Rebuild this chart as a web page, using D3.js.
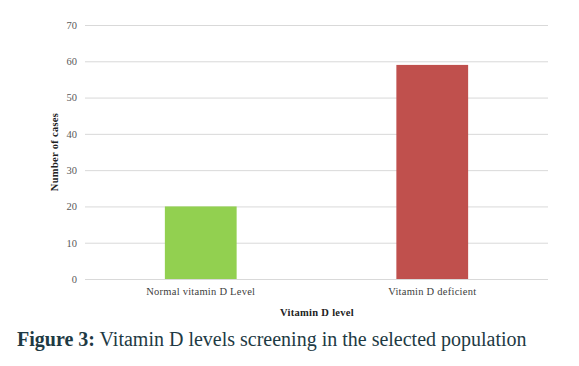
<!DOCTYPE html>
<html><head><meta charset="utf-8">
<script src="https://cdn.jsdelivr.net/npm/d3@7"></script>
<style>body{margin:0;background:#fff}svg{display:block}</style>
</head><body>
<svg id="c" width="579" height="366"></svg>
<script>
const categories = ["Normal vitamin D Level", "Vitamin D deficient"];
const values = [20, 59];
const colors = ["#92d050", "#c0504d"];
const yTicks = [0, 10, 20, 30, 40, 50, 60, 70];

const svg = d3.select("#c");
const m = {left: 85, right: 31, top: 25, bottom: 87};
const W = 579, H = 366;
const x = d3.scaleBand().domain(categories).range([m.left, W - m.right]).padding(0);
const y = d3.scaleLinear().domain([0, 70]).range([H - m.bottom, m.top]);
const font = "'Liberation Serif', 'DejaVu Serif', serif";

// gridlines
svg.append("g").selectAll("line").data(yTicks).join("line")
  .attr("x1", m.left).attr("x2", W - m.right)
  .attr("y1", d => y(d) + 0.5).attr("y2", d => y(d) + 0.5)
  .attr("stroke", "#d9d9d9").attr("stroke-width", 1);

// y axis labels
const yAxis = d3.axisLeft(y).tickValues(yTicks).tickSize(0).tickPadding(8);
const gy = svg.append("g").attr("transform", `translate(${m.left},0)`).call(yAxis);
gy.select(".domain").remove();
gy.selectAll("text").attr("font-family", font).attr("font-size", 10.5).attr("fill", "#595959");

// bars
const bw = x.bandwidth() * 0.31;
svg.append("g").selectAll("rect").data(values).join("rect")
  .attr("x", (d, i) => x(categories[i]) + x.bandwidth() / 2 - bw / 2)
  .attr("width", bw)
  .attr("y", d => y(d))
  .attr("height", d => y(0) - y(d))
  .attr("fill", (d, i) => colors[i]);

// x axis labels
const xAxis = d3.axisBottom(x).tickSize(0).tickPadding(9);
const gx = svg.append("g").attr("transform", `translate(0,${y(0)})`).call(xAxis);
gx.select(".domain").remove();
gx.selectAll("text").attr("font-family", font).attr("font-size", 10.5)
  .attr("letter-spacing", 0.25).attr("fill", "#404040");

// axis titles
svg.append("text").attr("x", 317).attr("y", 316)
  .attr("text-anchor", "middle").attr("font-family", font).attr("font-size", 10.5)
  .attr("letter-spacing", 0.3)
  .attr("font-weight", "bold").attr("fill", "#222").text("Vitamin D level");
svg.append("text").attr("transform", "translate(58,152) rotate(-90)")
  .attr("text-anchor", "middle").attr("font-family", font).attr("font-size", 10.5)
  .attr("letter-spacing", 0.3)
  .attr("font-weight", "bold").attr("fill", "#222").text("Number of cases");

// caption
const cap = svg.append("text").attr("x", 17).attr("y", 346)
  .attr("font-family", font).attr("font-size", 20).attr("fill", "#1e3a44");
cap.append("tspan").attr("font-weight", "bold").text("Figure 3:");
cap.append("tspan").text(" Vitamin D levels screening in the selected population");
</script>
</body></html>
